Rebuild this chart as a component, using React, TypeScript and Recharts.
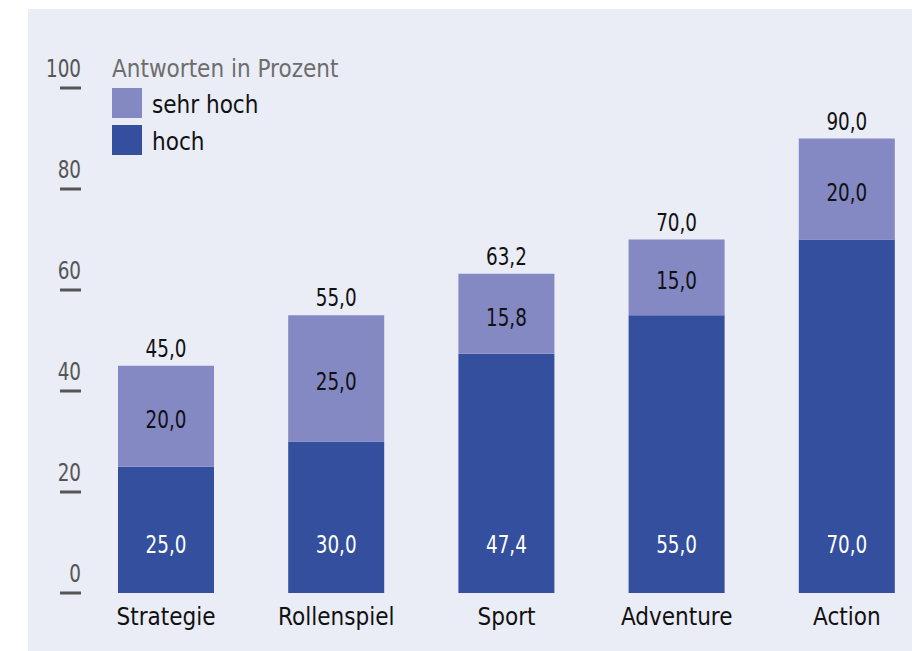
import React from 'react';
import { BarChart, Bar, XAxis, YAxis, Legend, LabelList } from 'recharts';

const categories = ['Strategie', 'Rollenspiel', 'Sport', 'Adventure', 'Action'];
const hoch = [25.0, 30.0, 47.4, 55.0, 70.0];
const sehrHoch = [20.0, 25.0, 15.8, 15.0, 20.0];
const yTicks = [0, 20, 40, 60, 80, 100];

const DARK = '#334f9e';
const LIGHT = '#8489c4';
const BG = '#eaecf6';
const FONT = '"Liberation Sans Narrow", "DejaVu Sans Condensed", "Roboto", sans-serif';

const data = categories.map((name, i) => ({
  name,
  hoch: hoch[i],
  sehrHoch: sehrHoch[i],
  total: hoch[i] + sehrHoch[i],
}));

const fmt = (v: number) => Number(v).toFixed(1).replace('.', ',');

// digits in the original are narrower than the installed condensed font
const Num = ({ x, y, anchor = 'middle', fill, children }: any) => (
  <text
    transform={`translate(${x} ${y}) scale(0.85 1)`}
    x={0}
    y={0}
    textAnchor={anchor}
    fill={fill}
    fontSize={24}
    fontFamily={FONT}
  >
    {children}
  </text>
);

const YTick = ({ x, y, payload }: any) => (
  <g>
    <line x1={x - 21} x2={x} y1={y} y2={y} stroke="#555" strokeWidth={3} />
    <Num x={x} y={y - 11} anchor="end" fill="#555">
      {payload.value}
    </Num>
  </g>
);

const XTick = ({ x, y, payload }: any) => (
  <text x={x} y={y + 32} textAnchor="middle" fill="#111" fontSize={24} fontFamily={FONT}>
    {payload.value}
  </text>
);

const HochLabel = ({ x, y, width, height, value }: any) => (
  <Num x={x + width / 2} y={y + height - 40} fill="#fff">
    {fmt(value)}
  </Num>
);

const SehrHochLabel = ({ x, y, width, height, value }: any) => (
  <Num x={x + width / 2} y={y + height / 2 + 12} fill="#111">
    {fmt(value)}
  </Num>
);

const TotalLabel = ({ x, y, width, value }: any) => (
  <Num x={x + width / 2} y={y - 9} fill="#111">
    {fmt(value)}
  </Num>
);

const LegendBox = () => (
  <svg width={240} height={110} style={{ display: 'block' }}>
    <text x={0} y={22} fill="#6d6d6d" fontSize={24} fontFamily={FONT}>Antworten in Prozent</text>
    <rect x={0} y={33} width={30} height={30} fill={LIGHT} />
    <text x={40} y={58} fill="#111" fontSize={24} fontFamily={FONT}>sehr hoch</text>
    <rect x={0} y={70} width={30} height={30} fill={DARK} />
    <text x={40} y={95} fill="#111" fontSize={24} fontFamily={FONT}>hoch</text>
  </svg>
);

export default function App() {
  return (
    <div style={{ position: 'absolute', left: 0, top: 0, width: 912, height: 651, overflow: 'hidden', background: '#fff' }}>
      <div style={{ position: 'absolute', left: 28, top: 9, width: 884, height: 642, background: BG, overflow: 'hidden' }}>
        <BarChart
          width={904}
          height={642}
          data={data}
          margin={{ top: 79, right: 0, left: 0, bottom: 18 }}
          barSize={96}
        >
          <YAxis
            type="number"
            domain={[0, 100]}
            ticks={yTicks}
            width={53}
            axisLine={false}
            tickLine={false}
            tickSize={0}
            tickMargin={0}
            tick={<YTick />}
            interval={0}
          />
          <XAxis
            dataKey="name"
            axisLine={false}
            tickLine={false}
            tickSize={0}
            tickMargin={0}
            height={40}
            tick={<XTick />}
            interval={0}
          />
          <Legend
            layout="horizontal"
            verticalAlign="middle"
            align="center"
            content={<LegendBox />}
            wrapperStyle={{ left: 84, top: 46, width: 240, height: 110 }}
          />
          <Bar dataKey="hoch" name="hoch" stackId="a" fill={DARK} isAnimationActive={false}>
            <LabelList dataKey="hoch" content={<HochLabel />} />
          </Bar>
          <Bar dataKey="sehrHoch" name="sehr hoch" stackId="a" fill={LIGHT} isAnimationActive={false}>
            <LabelList dataKey="sehrHoch" content={<SehrHochLabel />} />
            <LabelList dataKey="total" content={<TotalLabel />} />
          </Bar>
        </BarChart>
      </div>
    </div>
  );
}
